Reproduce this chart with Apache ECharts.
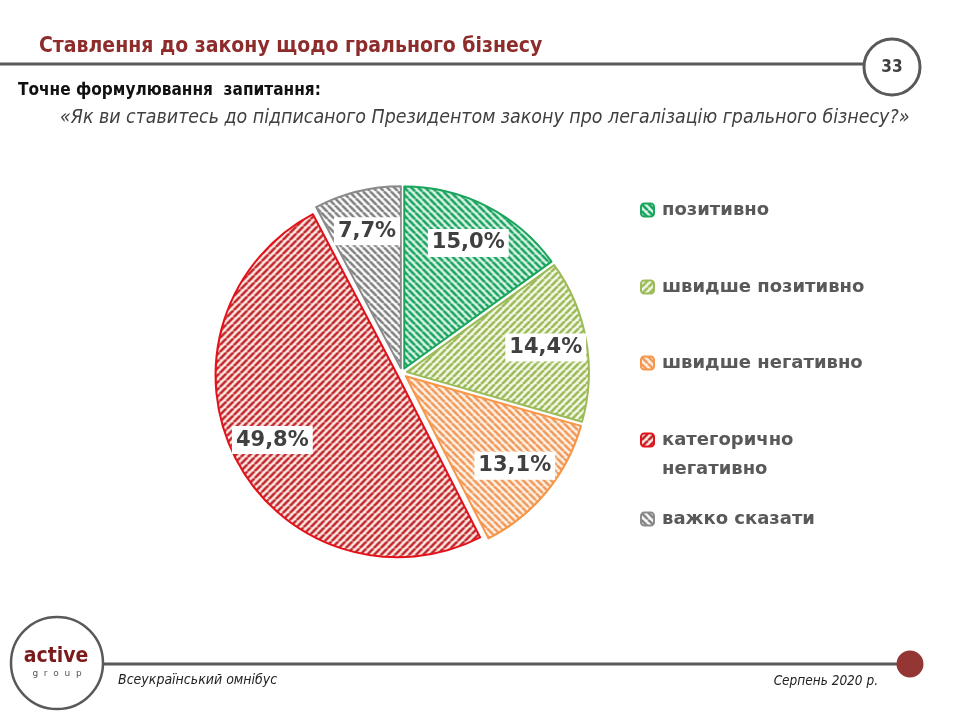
<!DOCTYPE html>
<html><head><meta charset="utf-8">
<script src="https://cdn.jsdelivr.net/npm/echarts@6/dist/echarts.min.js"></script>
<style>html,body{margin:0;padding:0;background:#fff}#c{width:960px;height:720px}</style>
</head><body><div id="c"></div>
<script>
// ---- data ----
const categories = ['позитивно', 'швидше позитивно', 'швидше негативно', 'категорично негативно', 'важко сказати'];
const legendLabels = ['позитивно', 'швидше позитивно', 'швидше негативно', 'категорично\nнегативно', 'важко сказати'];
const values = [15.0, 14.4, 13.1, 49.8, 7.7];

const titleText = 'Ставлення до закону щодо грального бізнесу';
const subTitleText = 'Точне формулювання  запитання:';
const questionText = '«Як ви ставитесь до підписаного Президентом закону про легалізацію грального бізнесу?»';
const pageNumber = '33';
const footerLeft = 'Всеукраїнський омнібус';
const footerRight = 'Серпень 2020 р.';

// ---- styles ----
const sliceStyles = [
  {stripe: '#11a05a', bg: '#e3f7ec', border: '#1aa55a', dir: '\\'},
  {stripe: '#9bbb59', bg: '#f5f8e8', border: '#9bbb59', dir: '/'},
  {stripe: '#f0995a', bg: '#fff3e8', border: '#f79646', dir: '\\'},
  {stripe: '#be2026', bg: '#fff0ea', border: '#e3121a', dir: '/'},
  {stripe: '#808080', bg: '#ffffff', border: '#8a8a8a', dir: '\\'}
];
function hatch(stroke, bg, dir) {
  const s = 7;
  const c = document.createElement('canvas');
  c.width = s; c.height = s;
  const ctx = c.getContext('2d');
  ctx.fillStyle = bg; ctx.fillRect(0, 0, s, s);
  ctx.strokeStyle = stroke; ctx.lineWidth = 2.6;
  ctx.beginPath();
  for (const k of [-s, 0, s]) {
    if (dir === '\\') { ctx.moveTo(k, 0); ctx.lineTo(k + s, s); }
    else { ctx.moveTo(k, s); ctx.lineTo(k + s, 0); }
  }
  ctx.stroke();
  return {image: c, repeat: 'repeat'};
}

const fmt = v => v.toFixed(1).replace('.', ',') + '%';
const CX = 402, CY = 373, R = 182;

const mainData = categories.map((name, i) => ({
  name, value: values[i], selected: true,
  itemStyle: {color: hatch(sliceStyles[i].stripe, sliceStyles[i].bg, sliceStyles[i].dir),
              borderColor: sliceStyles[i].border, borderWidth: 2}
}));
const labelData = categories.map((name, i) => ({name, value: values[i], selected: true}));

const legendTops = [210, 287, 363, 440, 519];
const legends = categories.map((name, i) => {
  const two = legendLabels[i].includes('\n');
  return {
    orient: 'vertical', left: 640, top: two ? legendTops[i] - 43.5 : legendTops[i] - 11,
    padding: 0, itemWidth: 13, itemHeight: 13, itemGap: 0, selectedMode: false,
    data: [name],
    formatter: () => two ? '\n' + legendLabels[i] : legendLabels[i],
    textStyle: {fontFamily: 'DejaVu Sans', fontWeight: 'bold', fontSize: 18, color: '#595959',
                lineHeight: two ? 29 : 22, padding: [0, 0, 0, 3]}
  };
});

const chart = echarts.init(document.getElementById('c'), null, {renderer: 'canvas'});
chart.setOption({
  animation: false,
  backgroundColor: '#ffffff',
  title: [
    {text: titleText, left: 39, top: 36, padding: 0,
     textStyle: {fontFamily: 'DejaVu Sans Condensed', fontWeight: 'bold', fontSize: 21, color: '#8e2b2b'}},
    {text: subTitleText, left: 18, top: 82, padding: 0,
     textStyle: {fontFamily: 'DejaVu Sans Condensed', fontWeight: 'bold', fontSize: 17.1, color: '#111111'}},
    {text: questionText, left: 60, top: 108, padding: 0,
     textStyle: {fontFamily: 'DejaVu Sans Condensed', fontStyle: 'italic', fontWeight: 'normal', fontSize: 19.4, color: '#404040'}}
  ],
  legend: legends,
  series: [
    {
      type: 'pie', center: [CX, CY], radius: [0, R], startAngle: 90, clockwise: true,
      selectedMode: 'multiple', selectedOffset: 5,
      emphasis: {disabled: true}, label: {show: false}, labelLine: {show: false},
      data: mainData, silent: true
    },
    {
      type: 'pie', center: [CX, CY], radius: [94, R], startAngle: 90, clockwise: true,
      selectedMode: 'multiple', selectedOffset: 5,
      emphasis: {disabled: true}, silent: true, legendHoverLink: false,
      itemStyle: {color: 'rgba(0,0,0,0)', borderWidth: 0},
      label: {show: true, position: 'inside', formatter: p => fmt(p.value),
              fontFamily: 'DejaVu Sans', fontWeight: 'bold', fontSize: 21, color: '#404040',
              backgroundColor: '#ffffff', padding: [4, 4, 3, 4]},
      labelLine: {show: false},
      data: labelData
    }
  ],
  graphic: [
    {type: 'line', z: 1, shape: {x1: 0, y1: 64, x2: 866, y2: 64}, style: {stroke: '#595959', lineWidth: 3}},
    {type: 'circle', z: 2, shape: {cx: 892, cy: 67, r: 28}, style: {stroke: '#595959', lineWidth: 3, fill: '#fff'}},
    {type: 'text', z: 3, x: 892, y: 68, style: {text: pageNumber, align: 'center', verticalAlign: 'middle',
      font: 'bold 17px "DejaVu Sans Condensed"', fill: '#404040'}},
    {type: 'line', z: 1, shape: {x1: 100, y1: 664, x2: 900, y2: 664}, style: {stroke: '#595959', lineWidth: 3}},
    {type: 'circle', z: 2, shape: {cx: 910, cy: 664, r: 13.5}, style: {fill: '#943634'}},
    {type: 'circle', z: 2, shape: {cx: 57, cy: 663, r: 46}, style: {stroke: '#595959', lineWidth: 2.5, fill: '#fff'}},
    {type: 'text', z: 3, x: 56, y: 657, style: {text: 'active', align: 'center', verticalAlign: 'middle',
      font: 'bold 21px "DejaVu Sans Condensed"', fill: '#7b1a1a'}},
    {type: 'text', z: 3, x: 57, y: 674, style: {text: 'g  r  o  u  p', align: 'center', verticalAlign: 'middle',
      font: '9px "DejaVu Sans"', fill: '#555'}},
    {type: 'text', z: 3, x: 118, y: 680, style: {text: footerLeft, align: 'left', verticalAlign: 'middle',
      font: 'italic 14px "DejaVu Sans Condensed"', fill: '#222'}},
    {type: 'text', z: 3, x: 878, y: 681, style: {text: footerRight, align: 'right', verticalAlign: 'middle',
      font: 'italic 13.5px "DejaVu Sans Condensed"', fill: '#222'}}
  ]
});
</script>
</body></html>
